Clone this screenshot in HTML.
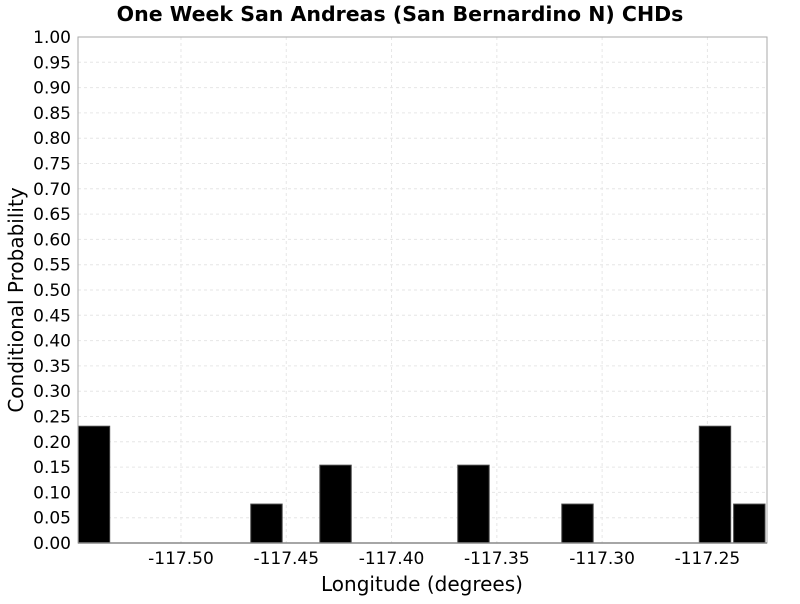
<!DOCTYPE html>
<html><head><meta charset="utf-8"><style>
body{margin:0;background:#fff;font-family:"DejaVu Sans","Liberation Sans",sans-serif;}
</style></head><body>
<svg id="chart" width="800" height="600" xmlns="http://www.w3.org/2000/svg">
<text x="400" y="21" text-anchor="middle" font-weight="bold" font-size="20.5" font-family="DejaVu Sans,Liberation Sans,sans-serif">One Week San Andreas (San Bernardino N) CHDs</text>
<g id="grid"></g><g id="bars"></g><g id="axes"></g>
<text x="422" y="591" text-anchor="middle" font-size="20" font-family="DejaVu Sans,Liberation Sans,sans-serif">Longitude (degrees)</text>
<text transform="translate(23,300) rotate(-90)" text-anchor="middle" font-size="20" font-family="DejaVu Sans,Liberation Sans,sans-serif">Conditional Probability</text>
</svg>
<script>
const binCenters=[-117.5413,-117.4594,-117.4266,-117.3611,-117.3117,-117.2464,-117.2301];
const probValues=[0.2308,0.0769,0.1538,0.1538,0.0769,0.2308,0.0769];
const xTicks=[-117.50,-117.45,-117.40,-117.35,-117.30,-117.25];
const yTicks=[0,0.05,0.1,0.15,0.2,0.25,0.3,0.35,0.4,0.45,0.5,0.55,0.6,0.65,0.7,0.75,0.8,0.85,0.9,0.95,1.0];
const barWidthDeg=0.0149;
const L=78,R=767,T=37,B=543;
const xMin=-117.5489,xMax=-117.2217;
const sx=v=>L+(v-xMin)/(xMax-xMin)*(R-L);
const sy=v=>B-v*(B-T);
const NS="http://www.w3.org/2000/svg";
function mk(tag,attrs,parent){const e=document.createElementNS(NS,tag);for(const k in attrs)e.setAttribute(k,attrs[k]);parent.appendChild(e);return e;}
const grid=document.getElementById('grid'),bars=document.getElementById('bars'),axes=document.getElementById('axes');
yTicks.forEach(v=>{
  const y=sy(v);
  if(v>0&&v<1){const g=mk('line',{x1:L,x2:R,y1:y,y2:y,stroke:'#e6e6e6','stroke-dasharray':'3,3','stroke-width':1},grid);
  
  }
  const t=mk('text',{x:71,y:y+6,'text-anchor':'end','font-size':17,'font-family':'DejaVu Sans,Liberation Sans,sans-serif'},axes);
  t.textContent=v.toFixed(2);
  
  
});
xTicks.forEach(v=>{
  const x=sx(v);
  const g=mk('line',{x1:x,x2:x,y1:T,y2:B,stroke:'#e6e6e6','stroke-dasharray':'3,3','stroke-width':1},grid);
  
  
  const t=mk('text',{x:x,y:564,'text-anchor':'middle','font-size':17,'font-family':'DejaVu Sans,Liberation Sans,sans-serif'},axes);
  t.textContent=v.toFixed(2);
  
  
});
binCenters.forEach((c,i)=>{
  const x0=sx(c-barWidthDeg/2),x1=sx(c+barWidthDeg/2);
  const b=mk('rect',{x:x0,y:sy(probValues[i]),width:x1-x0,height:B-sy(probValues[i]),fill:'#000',stroke:'#444','stroke-width':1},bars);
  
  
});
const f=mk('rect',{x:L,y:T,width:R-L,height:B-T,fill:'none',stroke:'#aaa','stroke-width':1},axes);


const xa=mk('line',{x1:L,x2:R,y1:B,y2:B,stroke:'#888','stroke-width':1.5},axes);


</script>
</body></html>
